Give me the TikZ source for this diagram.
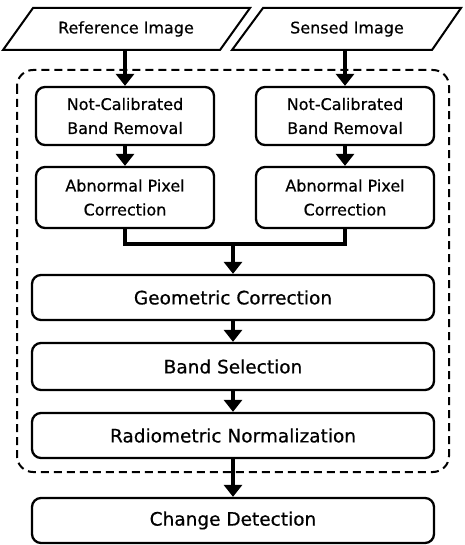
\documentclass[tikz,border=0pt]{standalone}
\usepackage{fontspec}
\setmainfont[FakeBold=0.6]{DejaVu Sans}
\usetikzlibrary{arrows.meta}
\tikzset{
  stepbox/.style={draw, line width=2.3pt, rounded corners=9pt, align=center,
    inner sep=0pt, font=\fontsize{16}{24}\selectfont},
  widebox/.style={stepbox, minimum width=402pt, font=\fontsize{18.5}{22}\selectfont},
  flow/.style={line width=3.4pt, -{Triangle[width=18pt,length=12pt]}},
  joinline/.style={line width=3.4pt},
  inputshape/.style={draw, line width=2pt, line join=miter},
  label/.style={font=\fontsize{16}{20}\selectfont}
}
\begin{document}
\begin{tikzpicture}[x=1pt,y=-1pt]
\useasboundingbox (0,0) rectangle (464,545);

% input parallelograms
\draw[inputshape] (33,8) -- (250,8) -- (220,50) -- (3,50) -- cycle;
\node[label] (ref) at (126,29) {Reference Image};
\coordinate (refout) at (125,50);
\draw[inputshape] (263,8) -- (461,8) -- (432,50) -- (232,50) -- cycle;
\node[label] (sen) at (347,29) {Sensed Image};
\coordinate (senout) at (345,50);

% preprocessing group
\draw[line width=2pt, dash pattern=on 8pt off 5pt, rounded corners=16pt]
  (17,70) rectangle (449,472);

% per-image steps
\node[stepbox, minimum width=178pt, minimum height=58pt] (ncl) at (125,116)
  {Not-Calibrated\\Band Removal};
\node[stepbox, minimum width=178pt, minimum height=58pt] (ncr) at (345,116)
  {Not-Calibrated\\Band Removal};
\node[stepbox, minimum width=178pt, minimum height=61pt] (apl) at (125,197.5)
  {Abnormal Pixel\\Correction};
\node[stepbox, minimum width=178pt, minimum height=61pt] (apr) at (345,197.5)
  {Abnormal Pixel\\Correction};

% shared steps
\node[widebox, minimum height=45pt] (geo) at (233,297.5) {Geometric Correction};
\node[widebox, minimum height=47pt] (band) at (233,366.5) {Band Selection};
\node[widebox, minimum height=45pt] (rad) at (233,435.5) {Radiometric Normalization};
\node[widebox, minimum height=45pt] (cd) at (233,520.5) {Change Detection};

% connectors
\draw[flow] (refout) -- (ncl.north);
\draw[flow] (senout) -- (ncr.north);
\draw[flow] (ncl) -- (apl);
\draw[flow] (ncr) -- (apr);
\coordinate (jl) at (125,244);
\coordinate (jr) at (345,244);
\coordinate (jm) at (233,244);
\draw[joinline, line join=miter] (apl.south) -- (jl) -- (jr) -- (apr.south);
\draw[flow] (jm) -- (geo.north);
\draw[flow] (geo) -- (band);
\draw[flow] (band) -- (rad);
\draw[flow] (rad) -- (cd);
\end{tikzpicture}
\end{document}
